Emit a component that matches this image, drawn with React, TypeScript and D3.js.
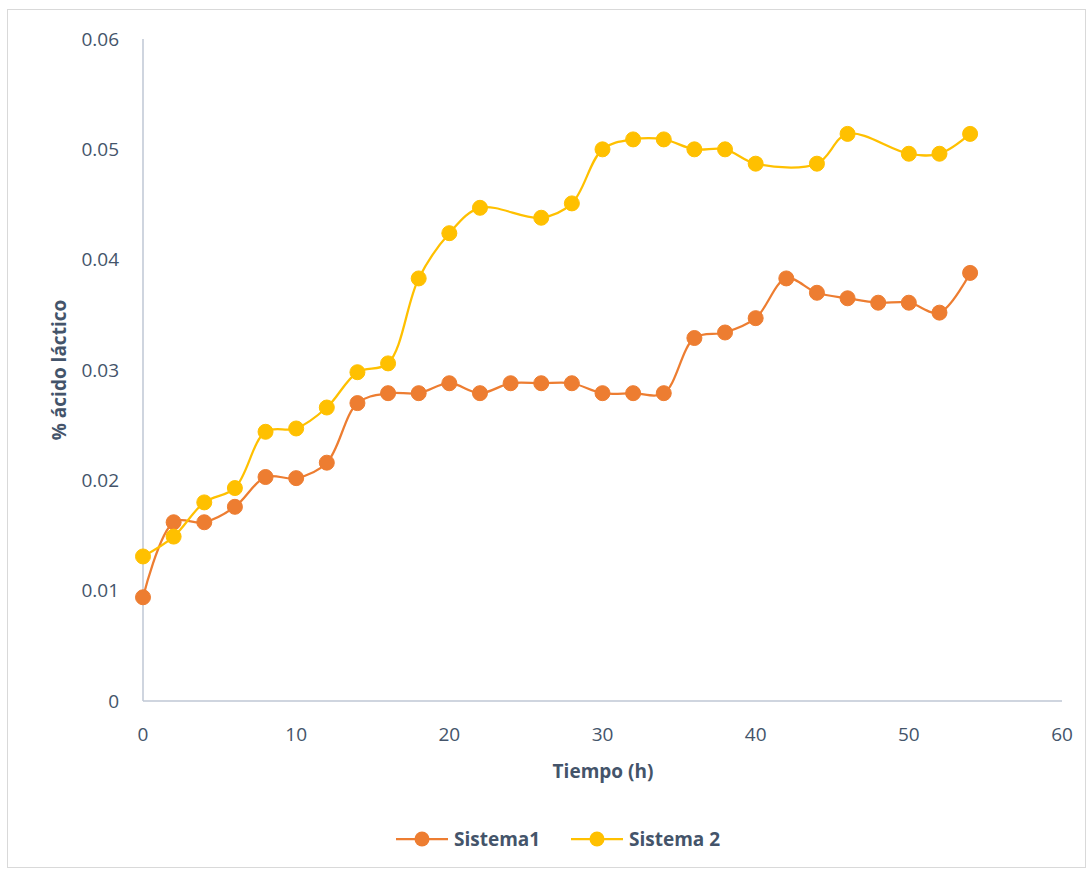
import React from 'react';
import * as d3 from 'd3';

// hours sampled
const hours1 = [0, 2, 4, 6, 8, 10, 12, 14, 16, 18, 20, 22, 24, 26, 28, 30, 32, 34, 36, 38, 40, 42, 44, 46, 48, 50, 52, 54];
const sistema1 = [0.0094, 0.0162, 0.0162, 0.0176, 0.0203, 0.0202, 0.0216, 0.0270, 0.0279, 0.0279, 0.0288, 0.0279, 0.0288, 0.0288, 0.0288, 0.0279, 0.0279, 0.0279, 0.0329, 0.0334, 0.0347, 0.0383, 0.0370, 0.0365, 0.0361, 0.0361, 0.0352, 0.0388];

const hours2 = [0, 2, 4, 6, 8, 10, 12, 14, 16, 18, 20, 22, 26, 28, 30, 32, 34, 36, 38, 40, 44, 46, 50, 52, 54];
const sistema2 = [0.0131, 0.0149, 0.0180, 0.0193, 0.0244, 0.0247, 0.0266, 0.0298, 0.0306, 0.0383, 0.0424, 0.0447, 0.0438, 0.0451, 0.0500, 0.0509, 0.0509, 0.0500, 0.0500, 0.0487, 0.0487, 0.0514, 0.0496, 0.0496, 0.0514];

const xTicks = [0, 10, 20, 30, 40, 50, 60];
const yTicks = [0, 0.01, 0.02, 0.03, 0.04, 0.05, 0.06];

const series = [
  { name: 'Sistema1', xs: hours1, ys: sistema1, color: '#ED7D31' },
  { name: 'Sistema 2', xs: hours2, ys: sistema2, color: '#FFC000' },
];

const W = 1089;
const H = 871;
const font = '"Open Sans", sans-serif';
const textColor = '#44546A';

export default function App() {
  const x = d3.scaleLinear().domain([0, 60]).range([143, 1062]);
  const y = d3.scaleLinear().domain([0, 0.06]).range([701, 39]);

  const line = d3
    .line<[number, number]>()
    .x(d => x(d[0]))
    .y(d => y(d[1]))
    .curve(d3.curveCatmullRom.alpha(0.5));

  return (
    <svg width={W} height={H} style={{ position: 'absolute', left: 0, top: 0 }}>
      <rect x={7.5} y={9.5} width={1078} height={858} fill="#fff" stroke="#D9D9D9" />

      {/* axes */}
      <line x1={x(0)} x2={x(0)} y1={y(0.06)} y2={y(0)} stroke="#BFC7D5" strokeWidth={1.5} />
      <line x1={x(0)} x2={x(60)} y1={y(0)} y2={y(0)} stroke="#BFC7D5" strokeWidth={1.5} />

      {yTicks.map(t => (
        <text key={t} x={119} y={y(t)} dy="0.35em" textAnchor="end" fontFamily={font} fontSize={19} fill={textColor}>
          {t === 0 ? '0' : t.toFixed(2)}
        </text>
      ))}
      {xTicks.map(t => (
        <text key={t} x={x(t)} y={734} dy="0.35em" textAnchor="middle" fontFamily={font} fontSize={19} fill={textColor}>
          {t}
        </text>
      ))}

      <text x={603} y={771} dy="0.35em" textAnchor="middle" fontFamily={font} fontSize={19} fontWeight="bold" fill={textColor}>
        Tiempo (h)
      </text>
      <text
        transform={`translate(59, ${y(0.03)}) rotate(-90)`}
        dy="0.35em"
        textAnchor="middle"
        fontFamily={font}
        fontSize={19}
        fontWeight="bold"
        fill={textColor}
      >
        % ácido láctico
      </text>

      {series.map(s => {
        const pts = s.xs.map((v, i) => [v, s.ys[i]] as [number, number]);
        return (
          <g key={s.name}>
            <path d={line(pts) || ''} fill="none" stroke={s.color} strokeWidth={2.25} />
            {pts.map((p, i) => (
              <circle key={i} cx={x(p[0])} cy={y(p[1])} r={7.5} fill={s.color} stroke={s.color} strokeWidth={1} />
            ))}
          </g>
        );
      })}

      {/* legend */}
      {series.map((s, i) => {
        const lx = i === 0 ? 396 : 571;
        return (
          <g key={s.name} transform={`translate(${lx}, 839)`}>
            <line x1={0} x2={52} y1={0} y2={0} stroke={s.color} strokeWidth={2.25} />
            <circle cx={26} cy={0} r={7.5} fill={s.color} />
            <text x={58} y={0} dy="0.35em" fontFamily={font} fontSize={19} fontWeight="bold" fill={textColor}>
              {s.name}
            </text>
          </g>
        );
      })}
    </svg>
  );
}
